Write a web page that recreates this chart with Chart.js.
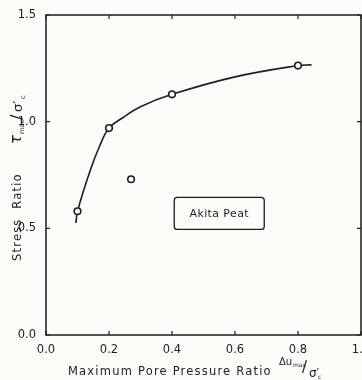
<!DOCTYPE html>
<html>
<head>
<meta charset="utf-8">
<script src="https://cdn.jsdelivr.net/npm/chart.js@4"></script>
<style>
  body { margin: 0; background: #fbfbf8; }
  canvas { display: block; }
</style>
</head>
<body>
<canvas id="PEATCHART" width="362" height="380"></canvas>
<script>
// measured points (open circles)
const poreRatio = [0.1, 0.2, 0.27, 0.4, 0.8];
const stressRatio = [0.58, 0.97, 0.73, 1.128, 1.263];

// hand drawn fitted curve
const curveX = [0.095, 0.1, 0.14, 0.17, 0.2, 0.24, 0.3, 0.4, 0.6, 0.8, 0.843];
const curveY = [0.525, 0.58, 0.77, 0.885, 0.97, 1.015, 1.07, 1.128, 1.21, 1.263, 1.266];

const xTicks = [0, 0.2, 0.4, 0.6, 0.8, 1.0];
const yTicks = [0, 0.5, 1.0, 1.5];
const boxLabel = 'Akita Peat';
const boxAt = { x: 0.55, y: 0.57 };

const ink = '#1e1e1e';
const font = '"DejaVu Sans", sans-serif';

// frame, inward ticks, axis titles, label box
const framePlugin = {
  id: 'frame',
  afterDraw(chart) {
    const c = chart.ctx;
    const a = chart.chartArea;
    const xs = chart.scales.x, ys = chart.scales.y;
    c.save();
    c.strokeStyle = ink;
    c.lineWidth = 1.5;
    c.strokeRect(a.left, a.top, a.right - a.left, a.bottom - a.top);
    c.lineWidth = 1.2;
    c.beginPath();
    xTicks.forEach(v => {
      const px = xs.getPixelForValue(v);
      c.moveTo(px, a.bottom); c.lineTo(px, a.bottom - 4);
      c.moveTo(px, a.top); c.lineTo(px, a.top + 4);
    });
    yTicks.forEach(v => {
      const py = ys.getPixelForValue(v);
      c.moveTo(a.left, py); c.lineTo(a.left + 4, py);
      c.moveTo(a.right, py); c.lineTo(a.right - 4, py);
    });
    c.stroke();

    c.fillStyle = ink;
    c.textBaseline = 'middle';

    // x title
    c.letterSpacing = '1.2px';
    c.font = '11.5px ' + font;
    c.textAlign = 'left';
    c.fillText('Maximum Pore Pressure Ratio', 68, 372);
    c.letterSpacing = '0px';
    c.font = '10px ' + font;
    c.fillText('\u0394u', 279, 362);
    c.font = '6px ' + font;
    c.fillText('max', 293, 365);
    c.font = '15px ' + font;
    c.fillText('/', 302, 368);
    c.font = '12px ' + font;
    c.fillText('\u03c3\u2032', 309, 374);
    c.font = '6px ' + font;
    c.fillText('c', 318, 377);

    // y title
    c.save();
    c.translate(18, 0);
    c.rotate(-Math.PI / 2);
    c.letterSpacing = '1.2px';
    c.font = '11.5px ' + font;
    c.textAlign = 'left';
    c.fillText('Stress  Ratio', -261, 0);
    c.letterSpacing = '0px';
    c.font = 'italic 15px ' + font;
    c.fillText('\u03c4', -144, -1);
    c.font = '6.5px ' + font;
    c.fillText('max', -134, 4);
    c.font = '16px ' + font;
    c.fillText('/', -120, 0);
    c.font = '13px ' + font;
    c.fillText('\u03c3\u2032', -112, 1);
    c.font = '6.5px ' + font;
    c.fillText('c', -99, 5);
    c.restore();

    // label box
    const bx = xs.getPixelForValue(boxAt.x), by = ys.getPixelForValue(boxAt.y);
    c.letterSpacing = '0.4px';
    c.font = '11px ' + font;
    c.textAlign = 'center';
    c.lineWidth = 1.3;
    c.beginPath();
    c.roundRect(bx - 45, by - 16, 90, 32, 3);
    c.stroke();
    c.fillText(boxLabel, bx, by + 1);
    c.restore();
  }
};

const ctx = document.getElementById('PEATCHART');

const peat_chart = new Chart(ctx, {
  type: 'scatter',
  data: {
    datasets: [{
      label: 'fit',
      type: 'line',
      data: curveX.map((x, i) => ({ x: x, y: curveY[i] })),
      borderColor: ink,
      borderWidth: 1.6,
      pointRadius: 0,
      tension: 0.4,
      fill: false,
      order: 2
    }, {
      label: 'measured',
      data: poreRatio.map((x, i) => ({ x: x, y: stressRatio[i] })),
      pointStyle: 'circle',
      pointRadius: 3.3,
      pointBorderWidth: 1.6,
      pointBorderColor: ink,
      pointBackgroundColor: '#fbfbf8',
      order: 1
    }]
  },
  plugins: [framePlugin],
  options: {
    responsive: false,
    animation: false,
    layout: { autoPadding: false, padding: { top: 15, right: 1, left: 0, bottom: 0 } },
    plugins: {
      legend: { display: false },
      tooltip: { enabled: false }
    },
    scales: {
      x: {
        type: 'linear',
        min: 0,
        max: 1,
        afterBuildTicks: s => { s.ticks = xTicks.map(v => ({ value: v })); },
        afterFit: s => { s.height = 45; s.paddingLeft = 0; s.paddingRight = 0; },
        grid: { display: false },
        border: { display: false },
        ticks: {
          color: ink,
          padding: 0,
          maxRotation: 0,
          font: { family: font, size: 11.5 },
          callback: v => v.toFixed(1)
        }
      },
      y: {
        type: 'linear',
        min: 0,
        max: 1.5,
        afterBuildTicks: s => { s.ticks = yTicks.map(v => ({ value: v })); },
        afterFit: s => { s.width = 46; s.paddingTop = 0; s.paddingBottom = 0; },
        grid: { display: false },
        border: { display: false },
        ticks: {
          color: ink,
          padding: 2,
          font: { family: font, size: 11.5 },
          callback: v => v.toFixed(1)
        }
      }
    }
  }
});
</script>
</body>
</html>
